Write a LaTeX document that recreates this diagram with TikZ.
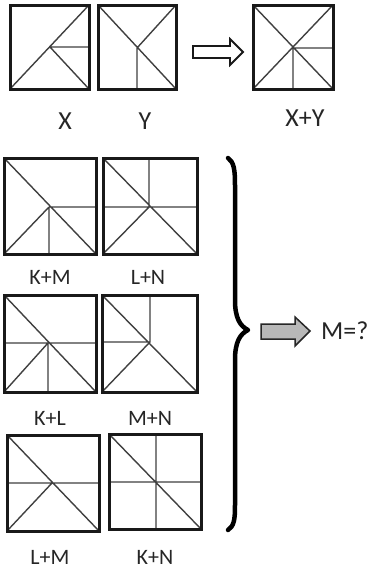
\documentclass[tikz,border=0pt]{standalone}
\usepackage{fontspec}
\setmainfont{Carlito}
\begin{document}
\begin{tikzpicture}[x=1pt,y=-1pt,
 frame/.style={line width=3pt, draw=black!90},
 inner/.style={line width=1.4pt, draw=black!75},
 lab/.style={font=\fontsize{22}{22}\selectfont, text=black!85, inner sep=0pt},
 biglab/.style={font=\fontsize{26}{26}\selectfont, text=black!85, inner sep=0pt}]
\useasboundingbox[fill=white] (0,0) rectangle (370,571);

% X
\draw[inner] (10,89) -- (89,5) (50,47) -- (89,47) (50,47) -- (89,89);
\draw[frame] (10,5) rectangle (89,89);
% Y
\draw[inner] (98,5) -- (176,89) (137,48) -- (176,5) (137,48) -- (137,89);
\draw[frame] (98,5) rectangle (176,89);
% X+Y
\draw[inner] (253,5) -- (333,89) (253,89) -- (333,5) (293,48) -- (333,48) (293,48) -- (293,89);
\draw[frame] (253,5) rectangle (333,89);
% hollow arrow
\draw[line width=1.8pt, draw=black!90, fill=white] (193,46) -- (230,46) -- (230,39) -- (243,52) -- (230,65) -- (230,58) -- (193,58) -- cycle;

% K+M
\draw[inner] (4,158) -- (96,254) (49,207) -- (4,254) (49,207) -- (96,207) (49,207) -- (49,254);
\draw[frame] (4,158) rectangle (96,254);
% L+N
\draw[inner] (103,158) -- (197,254) (149,207) -- (103,254) (103,207) -- (197,207) (149,158) -- (149,207);
\draw[frame] (103,158) rectangle (197,254);
% K+L
\draw[inner] (4,295) -- (96,392) (48,343) -- (4,392) (4,343) -- (96,343) (48,343) -- (48,392);
\draw[frame] (4,295) rectangle (96,392);
% M+N
\draw[inner] (102,295) -- (197,392) (150,342) -- (102,392) (102,342) -- (150,342) (150,295) -- (150,342);
\draw[frame] (102,295) rectangle (197,392);
% L+M
\draw[inner] (7,435) -- (99,531) (52,483) -- (7,531) (7,483) -- (99,483);
\draw[frame] (7,435) rectangle (99,531);
% K+N
\draw[inner] (109,434) -- (201,529) (109,482) -- (201,482) (156,434) -- (156,529);
\draw[frame] (109,434) rectangle (201,529);

% labels
\node[biglab] (lx) at (65,121) {X};
\node[biglab] (ly) at (145,121) {Y};
\node[biglab] (lxy) at (305,118) {X+Y};
\node[lab] (lkm) at (50,277) {K+M};
\node[lab] (lln) at (148,277) {L+N};
\node[lab] (lkl) at (50,418) {K+L};
\node[lab] (lmn) at (150,418) {M+N};
\node[lab] (llm) at (50,557) {L+M};
\node[lab] (lkn) at (155,557) {K+N};

% brace
\draw[line width=4.5pt, line cap=round, line join=round] (228,158) .. controls (234,162) and (235,170) .. (235,185)
 -- (235,300) .. controls (235,318) and (240,326) .. (248,330)
 .. controls (240,334) and (235,342) .. (235,360)
 -- (235,505) .. controls (235,520) and (234,526) .. (228,530);

% gray arrow
\draw[line width=1.5pt, draw=black!85, fill=black!28] (261,324) -- (295,324) -- (295,317) -- (310,331) -- (295,346) -- (295,339) -- (261,339) -- cycle;
\node[biglab, anchor=west] (lm) at (321,331) {M=?};
\end{tikzpicture}
\end{document}
